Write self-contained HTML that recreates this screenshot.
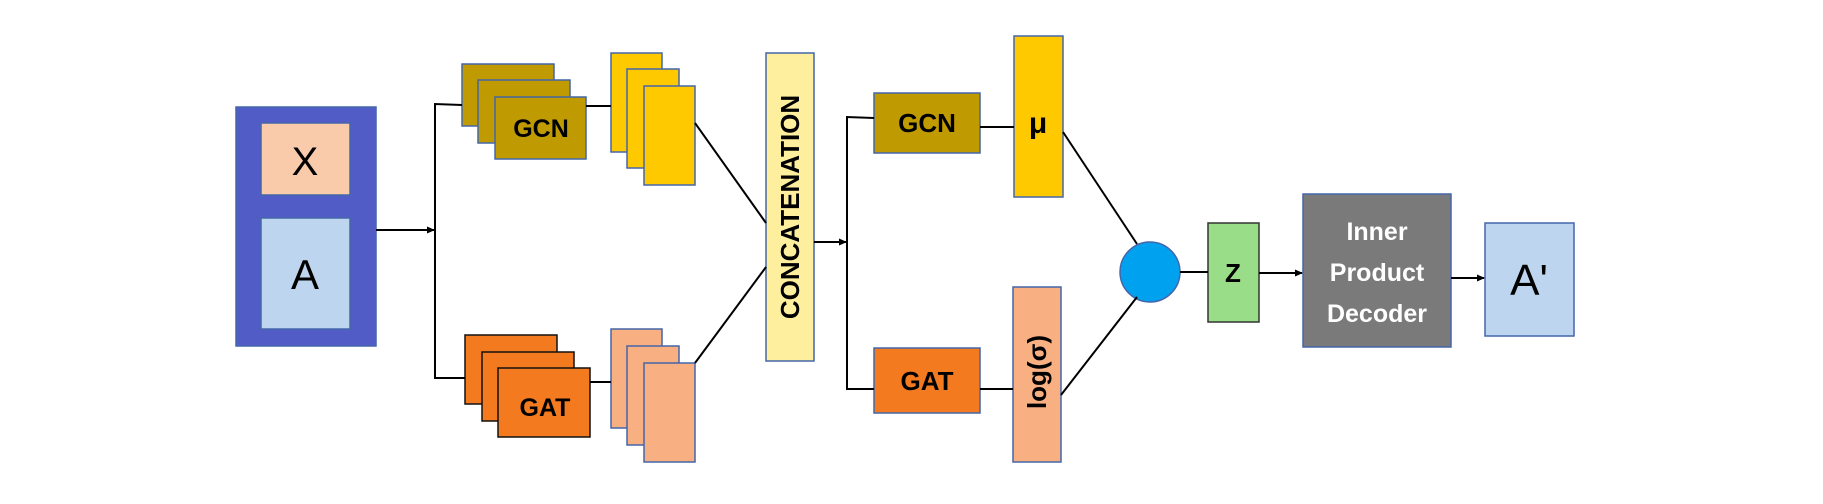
<!DOCTYPE html>
<html><head><meta charset="utf-8"><style>
html,body{margin:0;padding:0;background:#fff;width:1823px;height:504px;overflow:hidden}
svg{display:block}
text{font-family:"Liberation Sans",sans-serif}
</style></head><body>
<svg width="1823" height="504" viewBox="0 0 1823 504" xmlns="http://www.w3.org/2000/svg">
<defs><marker id="ar" markerWidth="8" markerHeight="8" refX="7" refY="4" orient="auto" markerUnits="userSpaceOnUse"><path d="M0,0.5 L8,4 L0,7.5z" fill="#000"/></marker></defs>
<g stroke="#4466aa" stroke-width="1.5">
<rect x="236" y="107" width="140" height="239" fill="#525cc7"/>
<rect x="261" y="123" width="89" height="72" fill="#f9cbaa"/>
<rect x="261" y="218" width="89" height="111" fill="#bdd5ee"/>
<rect x="462" y="64" width="92" height="62" fill="#bf9a00"/>
<rect x="478" y="80" width="92" height="63" fill="#bf9a00"/>
<rect x="495" y="97" width="91" height="62" fill="#bf9a00"/>
<rect x="611" y="53" width="51" height="99" fill="#ffc900"/>
<rect x="627" y="69" width="52" height="99" fill="#ffc900"/>
<rect x="644" y="86" width="51" height="99" fill="#ffc900"/>
<rect x="611" y="329" width="51" height="99" fill="#f8b083"/>
<rect x="627" y="346" width="52" height="99" fill="#f8b083"/>
<rect x="644" y="363" width="51" height="99" fill="#f8b083"/>
<rect x="766" y="53" width="48" height="308" fill="#fdef9d"/>
<rect x="874" y="93" width="106" height="60" fill="#bf9a00"/>
<rect x="1014" y="36" width="49" height="161" fill="#ffc900"/>
<rect x="874" y="348" width="106" height="65" fill="#f47a1f"/>
<rect x="1013" y="287" width="48" height="175" fill="#f8b083"/>
<ellipse cx="1150" cy="272" rx="30" ry="30" fill="#00a2f0"/>
<rect x="1208" y="223" width="51" height="99" fill="#99dd88" stroke="#333"/>
<rect x="1303" y="194" width="148" height="153" fill="#7a7a7a"/>
<rect x="1485" y="223" width="89" height="113" fill="#bdd5ee"/>
</g>
<g stroke="#111" stroke-width="1.5">
<rect x="465" y="335" width="92" height="69" fill="#f47a1f"/>
<rect x="482" y="352" width="92" height="69" fill="#f47a1f"/>
<rect x="498" y="368" width="92" height="69" fill="#f47a1f"/>
</g>
<g stroke="#000" stroke-width="2" fill="none">
<line x1="376" y1="230" x2="434" y2="230" marker-end="url(#ar)"/>
<polyline points="462,105 435,104 435,378 465,378"/>
<line x1="586" y1="106" x2="611" y2="106"/>
<line x1="590" y1="382" x2="611" y2="382"/>
<line x1="695" y1="123" x2="766" y2="223"/>
<line x1="695" y1="363" x2="766" y2="267"/>
<line x1="814" y1="242" x2="846" y2="242" marker-end="url(#ar)"/>
<polyline points="874,118 847,117 847,389 874,389"/>
<line x1="980" y1="127" x2="1014" y2="127"/>
<line x1="980" y1="389" x2="1013" y2="389"/>
<line x1="1063" y1="132" x2="1137" y2="244"/>
<line x1="1061" y1="395" x2="1137" y2="297"/>
<line x1="1180" y1="272" x2="1208" y2="272"/>
<line x1="1259" y1="273" x2="1302" y2="273" marker-end="url(#ar)"/>
<line x1="1451" y1="278" x2="1484" y2="278" marker-end="url(#ar)"/>
</g>
<g text-anchor="middle">
<text x="305" y="175" font-size="40">X</text>
<text x="305" y="289" font-size="42">A</text>
<text x="541" y="137" font-size="25" font-weight="bold">GCN</text>
<text x="545" y="416" font-size="25" font-weight="bold">GAT</text>
<text transform="translate(799,207) rotate(-90)" font-size="26" font-weight="bold">CONCATENATION</text>
<text x="927" y="132" font-size="26" font-weight="bold">GCN</text>
<text x="927" y="390" font-size="26" font-weight="bold">GAT</text>
<text x="1038" y="133" font-size="30" font-weight="bold">μ</text>
<text transform="translate(1046,372) rotate(-90)" font-size="26" font-weight="bold">log(σ)</text>
<text x="1233" y="282" font-size="26" font-weight="bold">Z</text>
<text x="1377" y="240" font-size="25" font-weight="bold" fill="#fff">Inner</text>
<text x="1377" y="281" font-size="25" font-weight="bold" fill="#fff">Product</text>
<text x="1377" y="322" font-size="25" font-weight="bold" fill="#fff">Decoder</text>
<text x="1529" y="295" font-size="44">A'</text>
</g>
</svg>
</body></html>
